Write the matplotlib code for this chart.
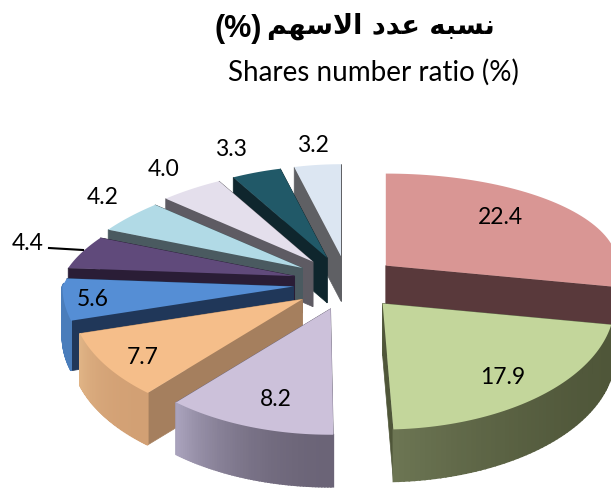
import numpy as np
import matplotlib
matplotlib.use("Agg")
import matplotlib.pyplot as plt
from matplotlib.colors import to_rgb

values = [22.4, 17.9, 8.2, 7.7, 5.6, 4.4, 4.2, 4.0, 3.3, 3.2]
value_labels = ["22.4", "17.9", "8.2", "7.7", "5.6", "4.4", "4.2", "4.0", "3.3", "3.2"]

title_pct = "(%)"
title_ar = "\ufee2\ufeec\ufeb3\ufefb\ufe8d" + " " + "\ufea9\ufeaa\ufecb" + " " + "\ufeea\ufe92\ufeb4\ufee7"
title_en = "Shares number ratio (%)"

top_colors = ["#D99694", "#C3D69B", "#CCC1DA", "#F5BE8A", "#558ED5",
              "#604A7B", "#B1DAE6", "#E4DFEC", "#215968", "#DCE6F2"]
wall_colors = ["#59393B", "#4F5639", "#6B6477", "#A57F5E", "#203759",
               "#2A1D36", "#4A5A60", "#5E5B63", "#0F262D", "#5F6064"]
#outer wall shading, from the start angle of a slice to its end angle
outer_from = ["#59393B", "#4F5639", "#6B6477", "#D2A074", "#4A7DBB",
              "#2A1D36", "#4A5A60", "#5E5B63", "#0F262D", "#5F6064"]
outer_to = ["#59393B", "#6C7553", "#A9A2BC", "#DFB385", "#4A7DBB",
            "#2A1D36", "#4A5A60", "#5E5B63", "#0F262D", "#5F6064"]

#layout of the fake 3d pie, in pixels of the figure
center = (343, 283)
explode = [56, 61, 41, 51, 50, 50, 49, 49, 43, 16]
explode_y = 27
depth = [38, 52, 52, 52, 50, 45, 45, 45, 45, 45]
ry_up, ry_down = 92, 126
tilt = [0, 2, 0, 0, 0, 0, 0, 0, 0, 0]
label_pos = [(500, 217), (503, 378), (276, 400), (143, 357), (93, 299),
             (28, 243), (103, 197), (164, 170), (231, 149), (313, 145)]
draw_order = [0, 9, 8, 7, 6, 5, 4, 3, 2, 1]

def warp(a):
    #perspective stretches the front of the pie a bit
    if 180 < a < 270:
        return a + 6.5 * np.sin(np.radians(2 * (a - 180)))
    return a

def outer_point(tx, ty, a):
    a = warp(a)
    s, c = np.sin(np.radians(a)), np.cos(np.radians(a))
    rx = 232 if a <= 180 else 231 - 42 * max(c, 0)
    ry = ry_up if c > 0 else ry_down
    return tx + rx * s, ty - ry * c

fig = plt.figure(figsize=(6.11, 4.88), dpi=100)
ax = fig.add_axes([0, 0, 1, 1])
ax.set_xlim(0, 611)
ax.set_ylim(488, 0)
ax.axis("off")

edges = np.concatenate([[0], np.cumsum(values)]) / sum(values) * 360

for layer, i in enumerate(draw_order):
    a0, a1 = edges[i], edges[i + 1]
    mid = np.radians((a0 + a1) / 2)
    tx = center[0] + explode[i] * np.sin(mid)
    ty = center[1] - explode_y * np.cos(mid)
    angles = np.linspace(a0, a1, 60)
    arc = np.array([outer_point(tx, ty, a - tilt[i] * (a - a0) / (a1 - a0)) for a in angles])
    d = depth[i]

    #flat side walls
    for (ex, ey) in (arc[0], arc[-1]):
        ax.fill([tx, ex, ex, tx], [ty, ey, ey + d, ty + d],
                color=wall_colors[i], lw=0.5, zorder=1 + layer * 3)
    #curved outer wall, strips for the shading
    c0, c1 = np.array(to_rgb(outer_from[i])), np.array(to_rgb(outer_to[i]))
    for k in range(len(arc) - 1):
        if not 90 <= angles[k] <= 272:
            continue
        t = (k / (len(arc) - 2)) ** 2
        ax.fill([arc[k, 0], arc[k + 1, 0], arc[k + 1, 0], arc[k, 0]],
                [arc[k, 1], arc[k + 1, 1], arc[k + 1, 1] + d, arc[k, 1] + d],
                color=c0 + (c1 - c0) * t, lw=1.2, zorder=2 + layer * 3)
    #top of the slice
    ax.fill(np.r_[tx, arc[:, 0]], np.r_[ty, arc[:, 1]], color=top_colors[i], lw=0,
            zorder=3 + layer * 3)

for lab, (x, y) in zip(value_labels, label_pos):
    ax.text(x, y, lab, ha="center", va="center", fontsize=16.5, family="Lato", color="black", zorder=50)
ax.plot([49, 83], [248, 250], color="black", lw=1.5, zorder=50)

ax.text(238, 29, title_pct, ha="center", va="center", fontsize=22, fontweight="bold",
        family="Liberation Sans", color="black")
ax.text(381, 26, title_ar, ha="center", va="center", fontsize=19.5, fontweight="bold",
        family="DejaVu Sans", color="black")
ax.text(373, 72, title_en, ha="center", va="center", fontsize=20, family="Lato", color="black")

fig.savefig("out.png", dpi=100)
